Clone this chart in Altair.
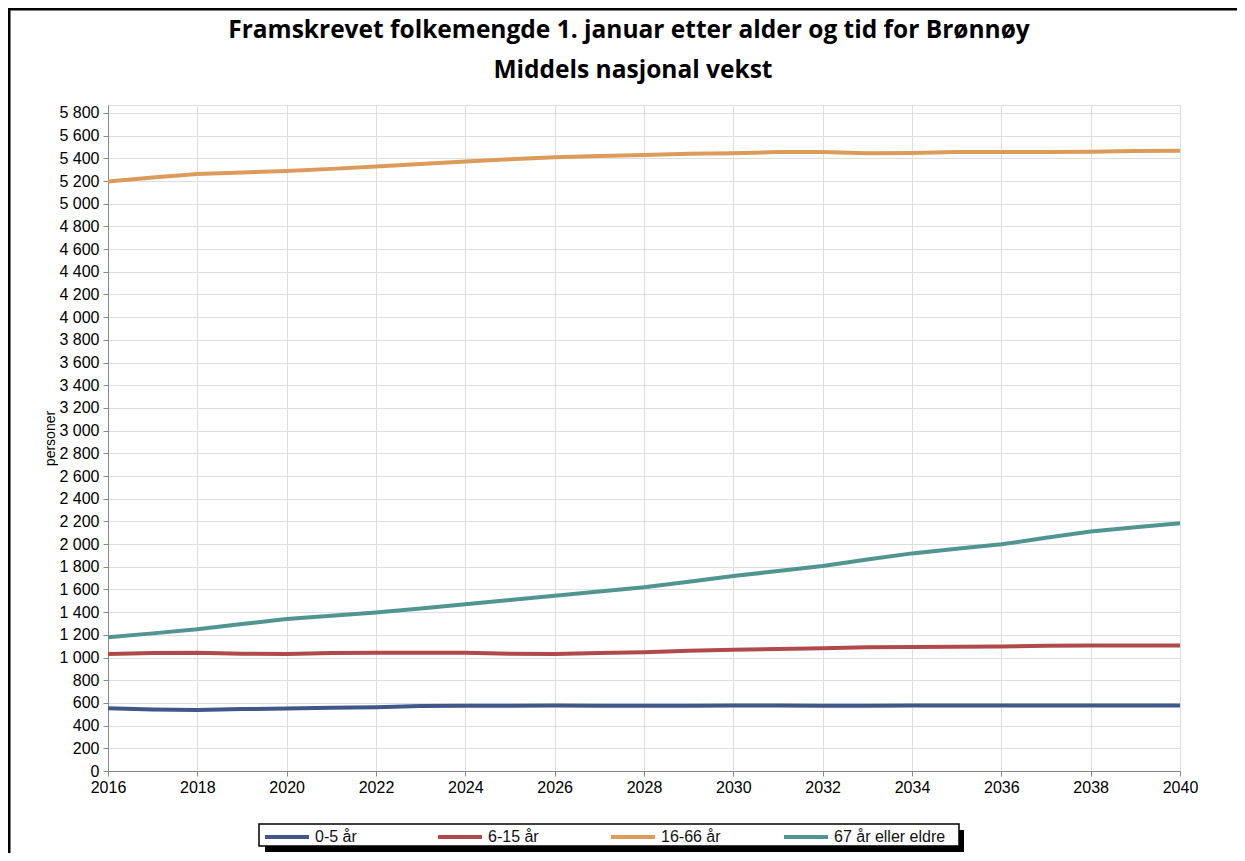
import altair as alt
import pandas as pd

years = list(range(2016, 2041))
series_names = ["0-5 år", "6-15 år", "16-66 år", "67 år eller eldre"]
series_colors = ["#41578a", "#b04a4a", "#dc9a5b", "#519591"]

age_0_5 = [552, 541, 538, 546, 550, 558, 562, 572, 576, 576, 577, 576, 575,
           576, 577, 577, 576, 576, 577, 577, 577, 578, 578, 578, 578]
age_6_15 = [1031, 1040, 1043, 1033, 1031, 1040, 1043, 1043, 1043, 1033, 1031,
            1040, 1047, 1059, 1068, 1076, 1082, 1090, 1093, 1095, 1097, 1104,
            1106, 1106, 1107]
age_16_66 = [5195, 5232, 5262, 5276, 5289, 5307, 5328, 5350, 5371, 5392, 5410,
             5421, 5430, 5440, 5445, 5455, 5455, 5445, 5447, 5455, 5455, 5456,
             5457, 5465, 5467]
age_67 = [1178, 1213, 1249, 1295, 1340, 1368, 1396, 1432, 1469, 1507, 1545,
          1582, 1619, 1668, 1719, 1762, 1807, 1865, 1918, 1958, 1998, 2055,
          2110, 2148, 2183]

x_ticks = list(range(2016, 2041, 2))
y_ticks = list(range(0, 5801, 200))

title_lines = ["Framskrevet folkemengde 1. januar etter alder og tid for Brønnøy",
               "Middels nasjonal vekst"]

rows = []
for name, vals in zip(series_names, [age_0_5, age_6_15, age_16_66, age_67]):
    for yr, v in zip(years, vals):
        rows.append({"år": yr, "personer": v, "alder": name})
df = pd.DataFrame(rows)

LABEL_FONT = "Liberation Sans, Arial, sans-serif"
TITLE_FONT = "Open Sans"

lines = alt.Chart(df).mark_line(strokeWidth=4, strokeCap="butt").encode(
    x=alt.X("år:Q",
            scale=alt.Scale(domain=[2016, 2040], nice=False, zero=False),
            axis=alt.Axis(values=x_ticks, format="d", title=None,
                          labelPadding=3, labelFlush=False,
                          labelFont=LABEL_FONT, labelFontSize=16)),
    y=alt.Y("personer:Q",
            scale=alt.Scale(domain=[0, 5870], nice=False),
            axis=alt.Axis(values=y_ticks, title="personer",
                          labelExpr="replace(format(datum.value, ',d'), ',', ' ')",
                          labelPadding=4, labelFont=LABEL_FONT, labelFontSize=16,
                          titleFont=LABEL_FONT,
                          titleFontSize=14, titleFontWeight="normal",
                          titleX=-58, titleY=333, titleAngle=270,
                          titleAlign="center", titleBaseline="middle")),
    color=alt.Color("alder:N",
                    scale=alt.Scale(domain=series_names, range=series_colors),
                    sort=series_names,
                    legend=alt.Legend(title=None, orient="none",
                                      legendX=155, legendY=708,
                                      direction="horizontal", columns=4,
                                      gridAlign="all", columnPadding=3,
                                      symbolType="stroke", symbolSize=1936,
                                      symbolStrokeWidth=4, labelOffset=4,
                                      labelFont=LABEL_FONT, labelFontSize=16,
                                      labelColor="#111", padding=0)),
)

title_df = pd.DataFrame({"line": title_lines, "row": [0, 1]})
title1 = alt.Chart(title_df).transform_filter("datum.row == 0").mark_text(
    font=TITLE_FONT, fontSize=24.5, fontWeight="bold", color="black",
    align="center", baseline="alphabetic").encode(
    text="line:N", x=alt.value(521), y=alt.value(-67))
title2 = alt.Chart(title_df).transform_filter("datum.row == 1").mark_text(
    font=TITLE_FONT, fontSize=24.5, fontWeight="bold", color="black",
    align="center", baseline="alphabetic").encode(
    text="line:N", x=alt.value(525), y=alt.value(-27))

box_df = pd.DataFrame({"k": [0]})
shadow = alt.Chart(box_df).mark_rect(color="black").encode(
    x=alt.value(157), x2=alt.value(856), y=alt.value(725), y2=alt.value(747))
box = alt.Chart(box_df).mark_rect(fill="white", stroke="black", strokeWidth=1.5).encode(
    x=alt.value(151), x2=alt.value(851), y=alt.value(719), y2=alt.value(741))
frame_top = alt.Chart(box_df).mark_rule(color="black", strokeWidth=3).encode(
    x=alt.value(-100), x2=alt.value(1130), y=alt.value(-96))
frame_left = alt.Chart(box_df).mark_rule(color="black", strokeWidth=3).encode(
    x=alt.value(-99), y=alt.value(-97), y2=alt.value(748))

chart = alt.layer(frame_top, frame_left, title1, title2, shadow, box, lines).properties(
    width=1072, height=666,
    autosize=alt.AutoSizeParams(type="none"),
    padding={"left": 100, "top": 97, "right": 57, "bottom": 82},
).configure_view(
    stroke="#d8d8d8", strokeWidth=1.5
).configure_axis(
    gridColor="#e2e2e2", gridWidth=1.5, domain=False, ticks=False,
    labelFont=LABEL_FONT, labelFontSize=16, labelColor="#222"
).configure(background="white")

chart.save("out.html", embed_options={"renderer": "svg", "actions": False})
